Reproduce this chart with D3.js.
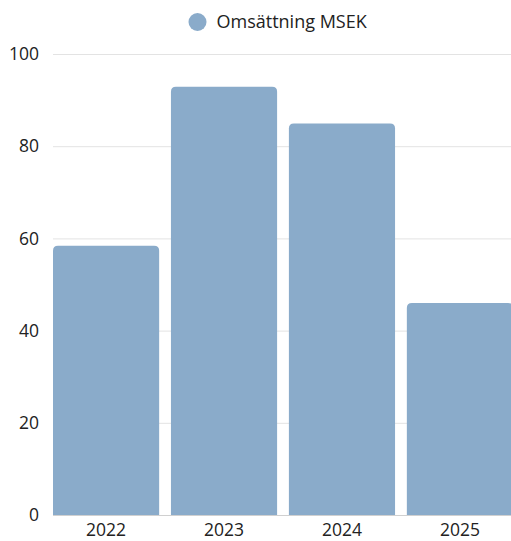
<!DOCTYPE html>
<html>
<head>
<meta charset="utf-8">
<script src="https://cdn.jsdelivr.net/npm/d3@7"></script>
<style>
  body { margin: 0; background: #fff; }
  svg { display: block; font-family: "Open Sans", sans-serif; }
</style>
</head>
<body>
<script>
var years = ["2022", "2023", "2024", "2025"];
var omsattning = [58.4, 92.9, 84.9, 46.0];
var yTicks = [0, 20, 40, 60, 80, 100];
var seriesName = "Omsättning MSEK";

var width = 511, height = 541;
var margin = {top: 54, right: -2, bottom: 26, left: 53};
var barColor = "#8aabca";

var svg = d3.select("body").append("svg")
  .attr("width", width)
  .attr("height", height);

var x = d3.scaleBand()
  .domain(years)
  .range([margin.left, width - margin.right])
  .paddingInner(0.1)
  .paddingOuter(0);

var y = d3.scaleLinear()
  .domain([0, 100])
  .range([height - margin.bottom, margin.top]);

// grid lines
svg.append("g")
  .selectAll("line")
    .data(yTicks)
  .enter().append("line")
    .attr("x1", margin.left)
    .attr("x2", width)
    .attr("y1", function(d) { return y(d) + 0.5; })
    .attr("y2", function(d) { return y(d) + 0.5; })
    .attr("stroke", function(d) { return d === 0 ? "#d0d0d0" : "#e3e3e3"; })
    .attr("stroke-width", 1);

// y labels
svg.append("g")
  .selectAll("text")
    .data(yTicks)
  .enter().append("text")
    .attr("x", 39)
    .attr("y", function(d) { return y(d); })
    .attr("dy", "0.35em")
    .attr("text-anchor", "end")
    .attr("font-size", 17.5)
    .attr("fill", "#222")
    .text(function(d) { return d; });

// bars with rounded tops
var r = 5;
function barPath(d, i) {
  var x0 = x(years[i]), w = x.bandwidth();
  var y0 = y(d), y1 = y(0);
  return "M" + x0 + "," + y1 +
    "V" + (y0 + r) +
    "Q" + x0 + "," + y0 + " " + (x0 + r) + "," + y0 +
    "H" + (x0 + w - r) +
    "Q" + (x0 + w) + "," + y0 + " " + (x0 + w) + "," + (y0 + r) +
    "V" + y1 + "Z";
}

svg.append("g")
  .selectAll("path")
    .data(omsattning)
  .enter().append("path")
    .attr("d", barPath)
    .attr("fill", barColor);

// x labels
svg.append("g")
  .selectAll("text")
    .data(years)
  .enter().append("text")
    .attr("x", function(d) { return x(d) + x.bandwidth() / 2; })
    .attr("y", 536)
    .attr("text-anchor", "middle")
    .attr("font-size", 17.5)
    .attr("fill", "#222")
    .text(function(d) { return d; });

// legend
var legend = svg.append("g");
legend.append("circle")
  .attr("cx", 197.5)
  .attr("cy", 22)
  .attr("r", 9)
  .attr("fill", barColor);
legend.append("text")
  .attr("x", 216.5)
  .attr("y", 28)
  .attr("font-size", 18)
  .attr("fill", "#222")
  .text(seriesName);
</script>
</body>
</html>
